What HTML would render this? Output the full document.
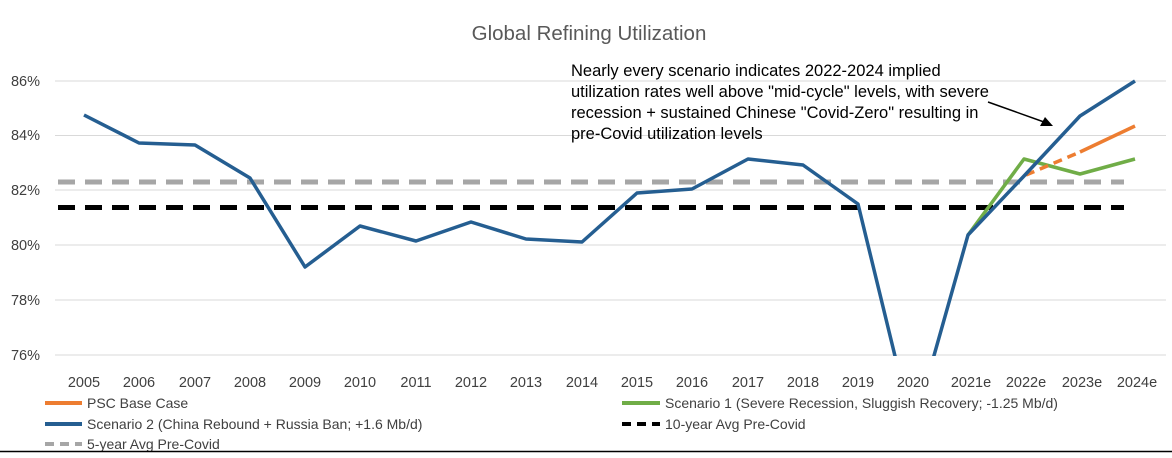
<!DOCTYPE html>
<html><head><style>
body{margin:0;background:#fff}
text{font-family:"Liberation Sans",sans-serif}
</style></head><body>
<svg width="1172" height="453" xmlns="http://www.w3.org/2000/svg">
<rect width="1172" height="453" fill="#fff"/>
<text x="589" y="40" text-anchor="middle" font-size="20.5" fill="#595959">Global Refining Utilization</text>
<g stroke="#d9d9d9" stroke-width="1">
<line x1="55" x2="1166" y1="81" y2="81"/><line x1="55" x2="1166" y1="135.5" y2="135.5"/>
<line x1="55" x2="1166" y1="190" y2="190"/><line x1="55" x2="1166" y1="245" y2="245"/>
<line x1="55" x2="1166" y1="300" y2="300"/><line x1="55" x2="1166" y1="355" y2="355"/>
</g>
<g font-size="14.5" fill="#404040" text-anchor="end">
<text x="40" y="86">86%</text><text x="40" y="140">84%</text><text x="40" y="195">82%</text>
<text x="40" y="250">80%</text><text x="40" y="305">78%</text><text x="40" y="360">76%</text>
</g>
<g font-size="14.5" fill="#404040" text-anchor="middle">
<text x="84" y="387">2005</text><text x="139" y="387">2006</text><text x="195" y="387">2007</text><text x="250" y="387">2008</text><text x="305" y="387">2009</text><text x="360" y="387">2010</text><text x="416" y="387">2011</text><text x="471" y="387">2012</text><text x="526" y="387">2013</text><text x="582" y="387">2014</text><text x="637" y="387">2015</text><text x="692" y="387">2016</text><text x="748" y="387">2017</text><text x="803" y="387">2018</text><text x="858" y="387">2019</text><text x="913" y="387">2020</text><text x="971" y="387">2021e</text><text x="1026" y="387">2022e</text><text x="1082" y="387">2023e</text><text x="1137" y="387">2024e</text>
</g>
<line x1="58" x2="1124" y1="182" y2="182" stroke="#a6a6a6" stroke-width="5" stroke-dasharray="17,10"/>
<line x1="58" x2="1124" y1="207.5" y2="207.5" stroke="#000" stroke-width="5" stroke-dasharray="17,10"/>
<defs><clipPath id="c"><rect x="0" y="0" width="1172" height="356"/></clipPath></defs>
<g clip-path="url(#c)" fill="none" stroke-linejoin="round">
<polyline stroke="#70ad47" stroke-width="3.5" points="968,235 1024,159 1080,174 1135,159"/>
<line x1="1026" y1="175" x2="1080" y2="152" stroke="#ed7d31" stroke-width="3.5" stroke-dasharray="9,6"/>
<line x1="1080" y1="152" x2="1135" y2="126" stroke="#ed7d31" stroke-width="3.5"/>
<polyline stroke="#255e91" stroke-width="3.5" points="84,115 139,143 195,145 250,178 305,267 360,226 416,241 471,222 526,239 582,242 637,193 692,189 748,159 803,165 858,204 913,430 968,235 1024,176 1080,116 1135,81"/>
</g>
<g font-size="16.5" fill="#000">
<text x="571" y="76">Nearly every scenario indicates 2022-2024 implied</text>
<text x="571" y="97">utilization rates well above "mid-cycle" levels, with severe</text>
<text x="571" y="118">recession + sustained Chinese "Covid-Zero" resulting in</text>
<text x="571" y="139">pre-Covid utilization levels</text>
</g>
<line x1="988" y1="102" x2="1044" y2="122" stroke="#000" stroke-width="1.5"/>
<polygon points="1053,126 1040,126 1045,117" fill="#000"/>
<g font-size="14" fill="#404040">
<line x1="45" x2="82" y1="403" y2="403" stroke="#ed7d31" stroke-width="4"/><text x="87" y="408">PSC Base Case</text>
<line x1="45" x2="82" y1="424" y2="424" stroke="#255e91" stroke-width="4"/><text x="87" y="429">Scenario 2 (China Rebound + Russia Ban; +1.6 Mb/d)</text>
<line x1="45" x2="82" y1="444" y2="444" stroke="#a6a6a6" stroke-width="4" stroke-dasharray="9,6"/><text x="87" y="449">5-year Avg Pre-Covid</text>
<line x1="622" x2="660" y1="403" y2="403" stroke="#70ad47" stroke-width="4"/><text x="665" y="408">Scenario 1 (Severe Recession, Sluggish Recovery; -1.25 Mb/d)</text>
<line x1="622" x2="660" y1="424" y2="424" stroke="#000" stroke-width="4" stroke-dasharray="9,6"/><text x="665" y="429">10-year Avg Pre-Covid</text>
</g>
<line x1="0" x2="1172" y1="451.5" y2="451.5" stroke="#000" stroke-width="1.5"/>
</svg>
</body></html>
